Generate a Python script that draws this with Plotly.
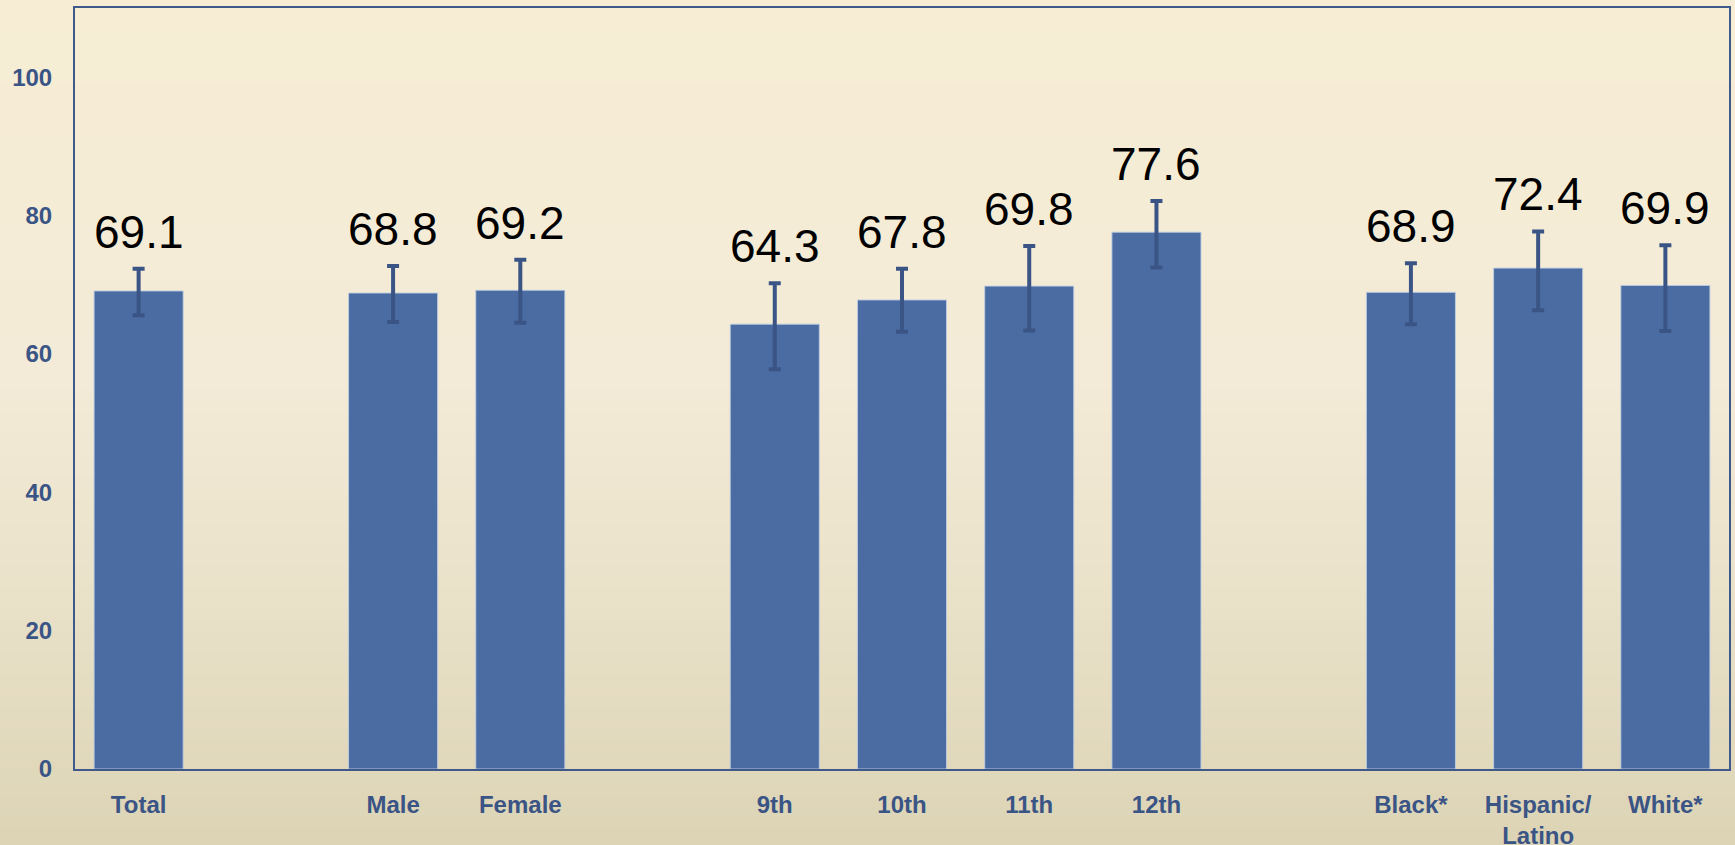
import plotly.graph_objects as go

# categories incl. blank spacer slots between the groups
categories = ["Total", " ", "Male", "Female", "  ", "9th", "10th", "11th", "12th",
              "   ", "Black*", "Hispanic/<br>Latino", "White*"]
values = [69.1, None, 68.8, 69.2, None, 64.3, 67.8, 69.8, 77.6,
          None, 68.9, 72.4, 69.9]
ci_upper = [72.3, None, 72.7, 73.6, None, 70.2, 72.3, 75.6, 82.1,
            None, 73.1, 77.7, 75.7]
ci_lower = [65.6, None, 64.6, 64.5, None, 57.8, 63.2, 63.4, 72.5,
            None, 64.3, 66.3, 63.3]

BAR = "#4B6CA2"
ERR = "#3A5585"
AXIS = "#3F5A8A"
TICK = "#3A5485"

err_plus = [None if v is None else u - v for v, u in zip(values, ci_upper)]
err_minus = [None if v is None else v - l for v, l in zip(values, ci_lower)]

fig = go.Figure()
fig.add_trace(go.Bar(
    x=categories, y=values,
    marker=dict(color=BAR, line=dict(color="rgba(190,205,225,0.9)", width=1)),
    width=0.7,
    error_y=dict(type="data", symmetric=False, array=err_plus,
                 arrayminus=err_minus, color=ERR, thickness=4, width=6),
    hoverinfo="x+y",
))

# value labels sitting above the error bars
for c, v, u in zip(categories, values, ci_upper):
    if v is None:
        continue
    fig.add_annotation(x=c, y=u, text=f"{v:.1f}", showarrow=False,
                       yanchor="bottom", yshift=9,
                       font=dict(family="Liberation Sans, Arial", size=46, color="black"))


# background gradient (light cream at top, darker tan at the bottom)
def lerp(a, b, t):
    return tuple(round(a[i] + (b[i] - a[i]) * t) for i in range(3))

stops = [(0.0, (247, 237, 213)), (0.45, (243, 235, 215)),
         (0.75, (231, 223, 197)), (1.0, (220, 211, 180))]
nb = 80
y_top, y_bot = 1.03, -0.12
shapes = []
for i in range(nb):
    f = (i + 0.5) / nb
    for (f0, c0), (f1, c1) in zip(stops[:-1], stops[1:]):
        if f0 <= f <= f1:
            col = lerp(c0, c1, (f - f0) / (f1 - f0))
            break
    ya = y_top - (y_top - y_bot) * i / nb
    yb = y_top - (y_top - y_bot) * (i + 1) / nb
    shapes.append(dict(type="rect", xref="paper", yref="paper",
                       x0=-0.1, x1=1.1, y0=yb - 0.002, y1=ya,
                       fillcolor="rgb(%d,%d,%d)" % col, line=dict(width=0),
                       layer="below"))

fig.update_layout(
    width=1735, height=845,
    margin=dict(l=75, r=6, t=8, b=76),
    paper_bgcolor="rgb(236,228,204)",
    plot_bgcolor="rgba(0,0,0,0)",
    shapes=shapes,
    showlegend=False,
    bargap=0.3,
    font=dict(family="Liberation Sans, Arial"),
)
fig.update_xaxes(
    categoryorder="array", categoryarray=categories,
    showline=True, linecolor=AXIS, linewidth=2, mirror=True,
    showgrid=False, ticks="", ticklabelstandoff=13, automargin=False,
    tickfont=dict(family="Liberation Sans, Arial", size=24, color=TICK, weight="bold"),
)
fig.update_yaxes(
    range=[0, 110], tickvals=[0, 20, 40, 60, 80, 100],
    showline=True, linecolor=AXIS, linewidth=2, mirror=True,
    showgrid=False, zeroline=False, ticks="", ticklabelstandoff=16, automargin=False,
    tickfont=dict(family="Liberation Sans, Arial", size=24, color=TICK, weight="bold"),
)

fig.write_html("out.html", config={"displayModeBar": False},
               post_script="document.body.style.margin='0';")
